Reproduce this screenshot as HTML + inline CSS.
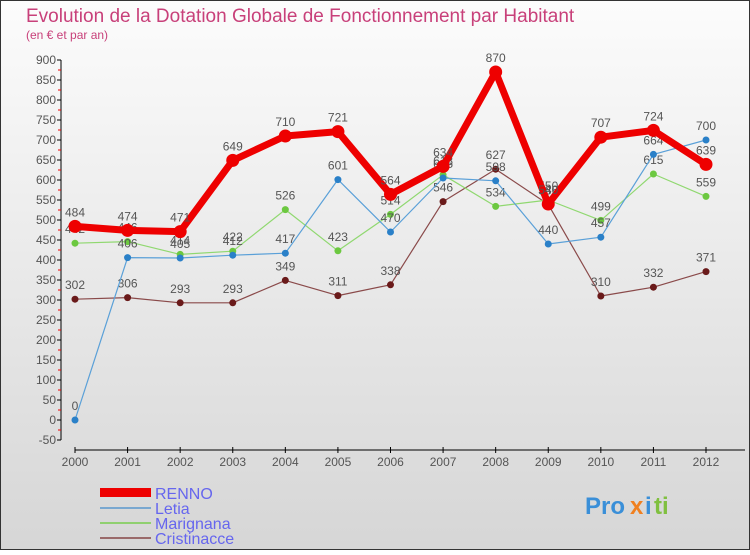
<!DOCTYPE html>
<html><head><meta charset="utf-8">
<style>
html,body{margin:0;padding:0}
body{width:750px;height:550px;overflow:hidden;font-family:"Liberation Sans",sans-serif}
</style></head>
<body>
<svg width="750" height="550" viewBox="0 0 750 550" xmlns="http://www.w3.org/2000/svg">
<defs>
<linearGradient id="bg" x1="0" y1="0" x2="0" y2="1">
<stop offset="0" stop-color="#fcfcfc"/><stop offset="1" stop-color="#d6d6d6"/>
</linearGradient>
</defs>
<rect x="0.5" y="0.5" width="749" height="549" fill="url(#bg)" stroke="#333"/>
<text x="26" y="22" font-size="19" fill="#c8407a">Evolution de la Dotation Globale de Fonctionnement par Habitant</text>
<text x="26" y="39" font-size="12" fill="#c8407a">(en € et par an)</text>
<g id="axes"></g>
<g id="series"></g>
<g id="legend">
<rect x="100" y="488" width="51" height="9" fill="#ee0000"/>
<text x="155" y="499" font-size="16" fill="#6666ee">RENNO</text>
<rect x="100" y="507" width="51" height="2" fill="#7aa8d0"/>
<text x="155" y="514" font-size="16" fill="#6666ee">Letia</text>
<rect x="100" y="522" width="51" height="2" fill="#90d070"/>
<text x="155" y="529" font-size="16" fill="#6666ee">Marignana</text>
<rect x="100" y="537" width="51" height="2" fill="#9a6a6a"/>
<text x="155" y="544" font-size="16" fill="#6666ee">Cristinacce</text>
</g>
<g font-size="24" font-weight="bold">
<text x="585" y="514" fill="#3a8fd8">Pro</text><text x="630" y="514" fill="#f08020">x</text><text x="645" y="514" fill="#3a8fd8">i</text><text x="654" y="514" fill="#80c040">ti</text>
</g>
</svg>
<script>
const years = [2000,2001,2002,2003,2004,2005,2006,2007,2008,2009,2010,2011,2012];
const renno = [484,474,471,649,710,721,564,634,870,540,707,724,639];
const letia = [0,406,405,412,417,601,470,605,598,440,457,664,700];
const marignana = [442,446,414,422,526,423,514,613,534,550,499,615,559];
const cristinacce = [302,306,293,293,349,311,338,546,627,539,310,332,371];
const yTicks = [-50,0,50,100,150,200,250,300,350,400,450,500,550,600,650,700,750,800,850,900];

const NS="http://www.w3.org/2000/svg";
const xs = i => 75 + i*(706-75)/12;
const ys = v => 420 - v*0.4;
function mk(tag, attrs, parent){const e=document.createElementNS(NS,tag);for(const k in attrs)e.setAttribute(k,attrs[k]);parent.appendChild(e);return e;}
const axes=document.getElementById('axes');
const ya=mk('line',{x1:61,y1:ys(900),x2:61,y2:ys(-50),stroke:'#000'},axes);


yTicks.forEach(v=>{
  const t=mk('line',{x1:57,y1:ys(v),x2:61,y2:ys(v),stroke:'#000'},axes);
  
  
  if(v<900){const m=mk('line',{x1:58,y1:ys(v+25),x2:61,y2:ys(v+25),stroke:'#e00'},axes);
    
    }
  const l=mk('text',{x:56,y:ys(v)+4,'font-size':12,fill:'#555','text-anchor':'end'},axes);
  
  
  l.textContent=v;
});
const xa=mk('line',{x1:75,y1:450,x2:745,y2:450,stroke:'#000'},axes);


years.forEach((y,i)=>{
  const t=mk('line',{x1:xs(i),y1:447,x2:xs(i),y2:453,stroke:'#000'},axes);
  
  
  const l=mk('text',{x:xs(i),y:466,'font-size':12,fill:'#555','text-anchor':'middle'},axes);
  
  
  l.textContent=y;
});
const g=document.getElementById('series');
function series(name,vals,color,dot,w,r){
  const sg=mk('g',{},g);
  
  
  const p=mk('polyline',{points:vals.map((v,i)=>xs(i)+','+ys(v)).join(' '),fill:'none',stroke:color,'stroke-width':w,'stroke-linejoin':'round'},sg);
  
  
  vals.forEach((v,i)=>{
    const c=mk('circle',{cx:xs(i),cy:ys(v),r:r,fill:dot},sg);
    
    
    const t=mk('text',{x:xs(i),y:ys(v)-10,'font-size':12,fill:'#555','text-anchor':'middle'},sg);
    
    
    t.textContent=v;
  });
}
series('cristinacce',cristinacce,'#8a4a4a','#6a1a1a',1.2,3.5);
series('marignana',marignana,'#90d870','#6cc840',1.2,3.5);
series('letia',letia,'#5aa0d8','#2a80c8',1.2,3.5);
series('renno',renno,'#ee0000','#ee0000',7,6.5);
</script>
</body></html>
